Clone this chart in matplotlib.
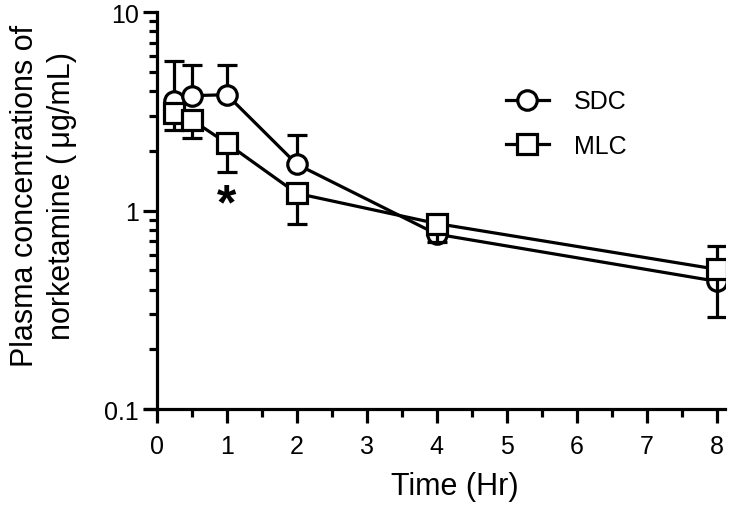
import numpy as np
import matplotlib
matplotlib.use("Agg")
import matplotlib.pyplot as plt
from matplotlib.ticker import LogLocator, FixedLocator, NullFormatter

plt.rcParams['font.family'] = ['Liberation Sans', 'DejaVu Sans']

# data
time = [0.25, 0.5, 1, 2, 4, 8]
sdc_mean = [3.55, 3.79, 3.83, 1.71, 0.76, 0.44]
sdc_upper = [5.66, 5.41, 5.38, 2.39, 0.83, 0.66]
mlc_mean = [3.10, 2.86, 2.18, 1.22, 0.86, 0.506]
mlc_lower = [2.54, 2.33, 1.57, 0.86, 0.69, 0.29]

lw = 2.3

fig = plt.figure(figsize=(7.56, 5.06), dpi=100)
ax = fig.add_axes([0.1918, 0.1897, 0.959 - 0.1918, 0.9743 - 0.1897])

sdc_err = [np.zeros(len(time)), np.array(sdc_upper) - np.array(sdc_mean)]
mlc_err = [np.array(mlc_mean) - np.array(mlc_lower), np.zeros(len(time))]

ax.errorbar(time, sdc_mean, yerr=sdc_err, color='black', lw=lw, marker='o',
            ms=14, mfc='white', mec='black', mew=lw, capsize=7.5, capthick=lw,
            elinewidth=lw, label='SDC', zorder=3)
ax.errorbar(time, mlc_mean, yerr=mlc_err, color='black', lw=lw, marker='s',
            ms=14, mfc='white', mec='black', mew=lw, capsize=7.5, capthick=lw,
            elinewidth=lw, label='MLC', zorder=4)

ax.text(1, 1.06, '*', ha='center', va='center', fontsize=36, fontweight='bold')

ax.set_yscale('log')
ax.set_ylim(0.1, 10)
ax.set_xlim(-0.17, 8.12)

ax.spines['top'].set_visible(False)
ax.spines['right'].set_visible(False)
ax.spines['left'].set_position(('data', 0))
for s in ['left', 'bottom']:
    ax.spines[s].set_linewidth(lw)

ax.xaxis.set_major_locator(FixedLocator(range(0, 9)))
ax.xaxis.set_minor_locator(FixedLocator(np.arange(0.5, 8, 1)))
ax.yaxis.set_major_locator(FixedLocator([0.1, 1, 10]))
ax.yaxis.set_minor_locator(LogLocator(base=10, subs=np.arange(2, 10)))
ax.yaxis.set_minor_formatter(NullFormatter())
ax.set_yticklabels(['0.1', '1', '10'])

ax.tick_params(axis='both', which='major', length=10, width=lw, labelsize=18)
ax.tick_params(axis='x', which='major', pad=8)
ax.tick_params(axis='y', which='major', pad=3)
ax.tick_params(axis='both', which='minor', length=6, width=lw)

ax.set_xlabel('Time (Hr)', fontsize=22)
ax.xaxis.set_label_coords(0.534, -0.155)
ax.set_ylabel('Plasma concentrations of\nnorketamine (\u2009\u03bcg/mL)', fontsize=22,
              linespacing=1.3)
ax.yaxis.set_label_coords(-0.118, 0.54)

handles, labels = ax.get_legend_handles_labels()
handles = [h[0] for h in handles]
leg = ax.legend(handles, labels, loc='upper left', bbox_to_anchor=(0.584, 0.862),
                fontsize=18, frameon=False, handlelength=1.7, handletextpad=1.0,
                labelspacing=0.83, markerscale=1.0)

fig.savefig('out.png', dpi=100)
